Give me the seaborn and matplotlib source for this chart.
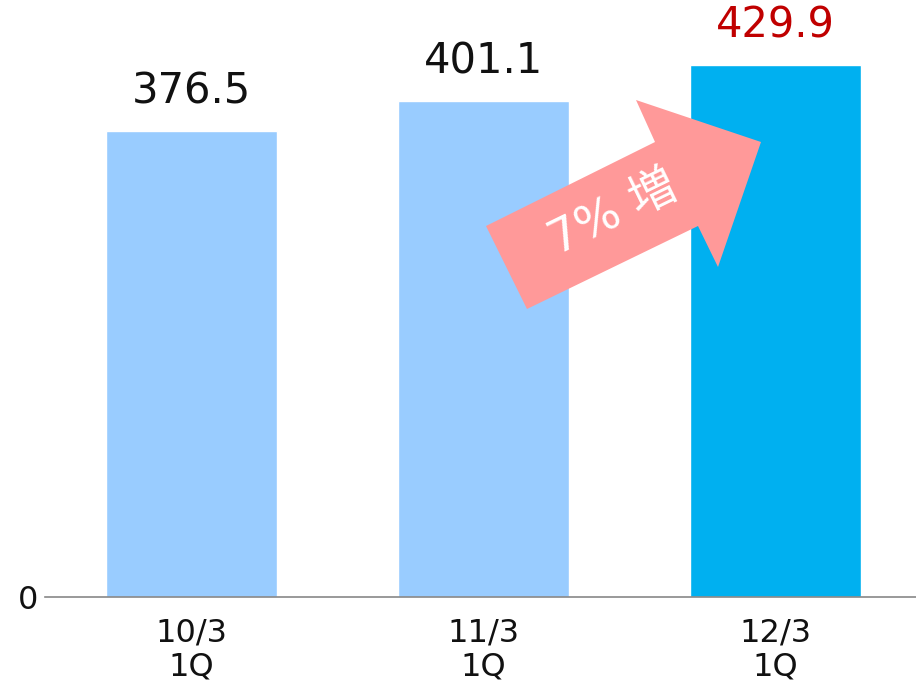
import matplotlib
matplotlib.use("Agg")
import matplotlib.pyplot as plt
import seaborn as sns
import pandas as pd
from matplotlib.patches import Polygon

categories = ["10/3\n1Q", "11/3\n1Q", "12/3\n1Q"]
values = [376.5, 401.1, 429.9]
bar_colors = ["#99CCFF", "#99CCFF", "#00B0F0"]
label_colors = ["#111111", "#111111", "#C00000"]
arrow_text = "7% 増"

sns.set_theme(style="white")
plt.rcParams['font.family'] = ['DejaVu Sans', 'Noto Sans CJK JP']

df = pd.DataFrame({"cat": categories, "val": values})

fig = plt.figure(figsize=(9.16, 6.87), dpi=100)
ax = fig.add_axes([45/916, 90/687, 871/916, 597/687])
sns.barplot(data=df, x="cat", y="val", hue="cat", palette=bar_colors,
            width=0.586, legend=False, ax=ax, saturation=1)

ax.set_xlim(-0.502, 2.481)
ax.set_ylim(0, 482.3)
for s in ["top", "right", "left"]:
    ax.spines[s].set_visible(False)
ax.spines["bottom"].set_color("#888888")
ax.spines["bottom"].set_linewidth(1.2)
ax.set_yticks([0])
ax.set_yticklabels(["0"], fontsize=23, color="#111111")
ax.tick_params(axis="y", length=0, pad=5)
ax.tick_params(axis="x", length=0, pad=15, labelsize=23, labelcolor="#111111")
ax.set_xlabel("")
ax.set_ylabel("")
for lbl in ax.get_xticklabels():
    lbl.set_linespacing(1.12)

for i, (v, c) in enumerate(zip(values, label_colors)):
    ax.annotate(f"{v:.1f}", (i, v), xytext=(0, 13), textcoords="offset points",
                ha="center", va="bottom", fontsize=30, color=c)

# decorative arrow (axes pixel-fraction coordinates)
pts_px = [(486, 226), (527, 309), (698, 226), (718, 267), (761, 142), (636, 100), (655, 142)]
pts = [((x - 45) / 871, (597 - y) / 597) for x, y in pts_px]
ax.add_patch(Polygon(pts, closed=True, transform=ax.transAxes,
                     facecolor="#FF9999", edgecolor="none", zorder=5))
ax.text((613 - 45) / 871, (597 - 214) / 597, arrow_text, transform=ax.transAxes,
        rotation=26, ha="center", va="center", fontsize=34, color="white",
        zorder=6, family=['DejaVu Sans', 'Noto Sans CJK JP'])

fig.savefig("out.png", dpi=100)
